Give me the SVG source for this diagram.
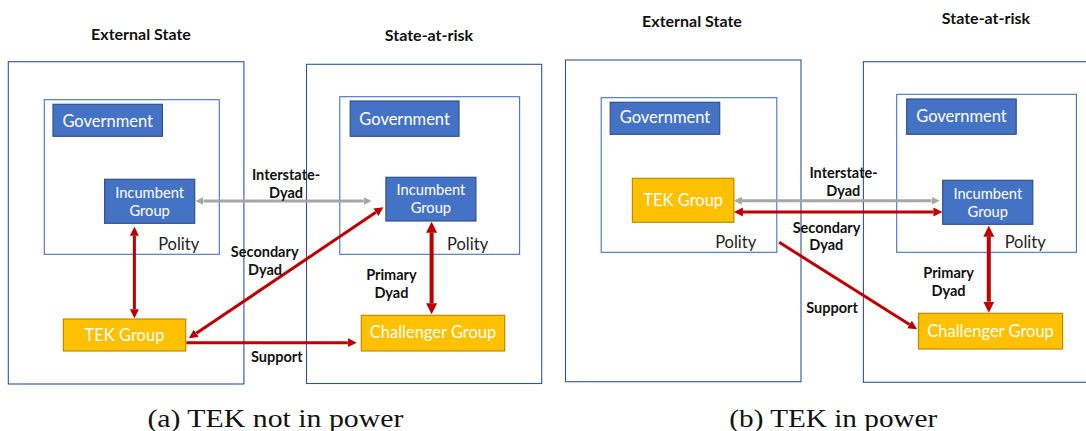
<svg xmlns="http://www.w3.org/2000/svg" width="1086" height="431" viewBox="0 0 1086 431">
<style>
.outer{fill:none;stroke:#2F5597;stroke-width:1.1}
.inner{fill:none;stroke:#4472C4;stroke-width:1.1}
.blue{fill:#4472C4;stroke:#2F528F;stroke-width:1.2}
.yel{fill:#FFC000;stroke:#BC8C00;stroke-width:1.2}
.nt{font-family:Lato,"Liberation Sans",sans-serif;fill:#fff;text-anchor:middle}
.pol{font-family:Lato,"Liberation Sans",sans-serif;fill:#222;font-size:16.5px;text-anchor:middle}
.lab{font-family:Lato,"Liberation Sans",sans-serif;font-weight:bold;fill:#111;font-size:14.5px;text-anchor:middle}
.title{font-family:Lato,"Liberation Sans",sans-serif;font-weight:bold;fill:#111;font-size:16px;text-anchor:middle}
.cap{font-family:"Liberation Serif",serif;fill:#111;font-size:25px;text-anchor:middle}
.red{stroke:#C00000;stroke-width:3;fill:none}
.gray{stroke:#A6A6A6;stroke-width:3;fill:none}
</style>
<defs>
<marker id="hr" viewBox="0 0 10 10" refX="0" refY="5" markerWidth="9" markerHeight="10" markerUnits="userSpaceOnUse" orient="auto-start-reverse"><path d="M0,0 L10,5 L0,10 z" fill="#C00000"/></marker>
<marker id="hp" viewBox="0 0 10 10" refX="0" refY="5" markerWidth="11" markerHeight="13" markerUnits="userSpaceOnUse" orient="auto-start-reverse"><path d="M0,0 L10,5 L0,10 z" fill="#C00000"/></marker>
<marker id="hg" viewBox="0 0 10 10" refX="0" refY="5" markerWidth="8" markerHeight="10" markerUnits="userSpaceOnUse" orient="auto-start-reverse"><path d="M0,0 L10,5 L0,10 z" fill="#A6A6A6"/></marker>
</defs>

<!-- Panel (a) -->
<text class="title" x="141" y="40">External State</text>
<text class="title" x="429" y="40.5">State-at-risk</text>
<g id="a-external-state"><rect class="outer" x="8.3" y="61.7" width="235.6" height="322.3"/></g>
<g id="a-external-polity"><rect class="inner" x="44.3" y="99.7" width="175" height="154.6"/><text class="pol" x="178.7" y="250">Polity</text></g>
<g id="a-external-government"><rect class="blue" x="53" y="104.3" width="109.4" height="32"/><text class="nt" x="107.7" y="126.5" font-size="16.5">Government</text></g>
<g id="a-external-incumbent"><rect class="blue" x="104.6" y="179.3" width="90.1" height="44"/><text class="nt" x="149.6" y="198.3" font-size="14.7">Incumbent</text><text class="nt" x="149.6" y="216" font-size="14.7">Group</text></g>
<g id="a-tek"><rect class="yel" x="63.4" y="319" width="122.3" height="32"/><text class="nt" x="124.5" y="340.7" font-size="16.5">TEK Group</text></g>
<g id="a-risk-state"><rect class="outer" x="306.5" y="64.3" width="235.2" height="319.2"/></g>
<g id="a-risk-polity"><rect class="inner" x="339.8" y="96.7" width="179.8" height="157.6"/><text class="pol" x="467.6" y="250">Polity</text></g>
<g id="a-risk-government"><rect class="blue" x="350.2" y="101" width="108.8" height="35.3"/><text class="nt" x="404.6" y="124.7" font-size="16.5">Government</text></g>
<g id="a-risk-incumbent"><rect class="blue" x="385.9" y="177.3" width="90" height="43.7"/><text class="nt" x="430.9" y="195" font-size="14.7">Incumbent</text><text class="nt" x="430.9" y="212.7" font-size="14.7">Group</text></g>
<g id="a-challenger"><rect class="yel" x="361.3" y="315.3" width="143.4" height="35.7"/><text class="nt" x="433" y="338.3" font-size="16.5">Challenger Group</text></g>

<g id="a-connectors">
<line class="gray" x1="203.4" y1="201" x2="363.7" y2="201" marker-start="url(#hg)" marker-end="url(#hg)"/>
<line class="red" x1="134.4" y1="235.7" x2="134.4" y2="309.3" marker-start="url(#hr)" marker-end="url(#hr)"/>
<line class="red" x1="196.3" y1="333.3" x2="375.9" y2="212.3" marker-start="url(#hr)" marker-end="url(#hr)"/>
<line class="red" style="stroke-width:4" x1="431.6" y1="232.7" x2="431.6" y2="303.3" marker-start="url(#hp)" marker-end="url(#hp)"/>
<line class="red" x1="186.4" y1="342.7" x2="347.8" y2="342.7" marker-end="url(#hr)"/>
<text class="lab" x="286" y="180">Interstate-</text>
<text class="lab" x="286" y="197.7">Dyad</text>
<text class="lab" x="264.7" y="257.3">Secondary</text>
<text class="lab" x="265" y="275">Dyad</text>
<text class="lab" x="391.4" y="280">Primary</text>
<text class="lab" x="391.4" y="297.7">Dyad</text>
<text class="lab" x="276.8" y="362.3">Support</text>
</g>
<text class="cap" x="275.4" y="426.5" textLength="256" lengthAdjust="spacingAndGlyphs">(a) TEK not in power</text>

<!-- Panel (b) -->
<text class="title" x="692" y="26.7">External State</text>
<text class="title" x="986" y="24">State-at-risk</text>
<g id="b-external-state"><rect class="outer" x="565.5" y="60" width="235.5" height="321.7"/></g>
<g id="b-external-polity"><rect class="inner" x="601.2" y="97.7" width="175.6" height="154.6"/><text class="pol" x="735.7" y="248.3">Polity</text></g>
<g id="b-external-government"><rect class="blue" x="610.2" y="102.3" width="109.5" height="32"/><text class="nt" x="665" y="123.3" font-size="16.5">Government</text></g>
<g id="b-tek"><rect class="yel" x="632.4" y="178.3" width="101.5" height="44"/><text class="nt" x="683.2" y="205.7" font-size="16.5">TEK Group</text></g>
<g id="b-risk-state"><rect class="outer" x="863.4" y="61.7" width="230" height="320.6"/></g>
<g id="b-risk-polity"><rect class="inner" x="896.7" y="94.3" width="179.7" height="158"/><text class="pol" x="1025.2" y="248.3">Polity</text></g>
<g id="b-risk-government"><rect class="blue" x="906.7" y="99" width="109.5" height="35.3"/><text class="nt" x="961.5" y="121.7" font-size="16.5">Government</text></g>
<g id="b-risk-incumbent"><rect class="blue" x="942.7" y="180.3" width="90.1" height="44"/><text class="nt" x="987.8" y="199" font-size="14.7">Incumbent</text><text class="nt" x="987.8" y="216.7" font-size="14.7">Group</text></g>
<g id="b-challenger"><rect class="yel" x="918.5" y="313.3" width="144.1" height="35.7"/><text class="nt" x="990.6" y="336.7" font-size="16.5">Challenger Group</text></g>

<g id="b-connectors">
<line class="gray" x1="741.9" y1="200.7" x2="931.6" y2="200.7" marker-start="url(#hg)" marker-end="url(#hg)"/>
<line class="red" x1="742.9" y1="212" x2="933.4" y2="212" marker-start="url(#hr)" marker-end="url(#hr)"/>
<line class="red" x1="779.2" y1="242.3" x2="909.5" y2="324.5" marker-end="url(#hr)"/>
<line class="red" style="stroke-width:4" x1="988.8" y1="236.7" x2="988.8" y2="301.7" marker-start="url(#hp)" marker-end="url(#hp)"/>
<text class="lab" x="843.5" y="178.3">Interstate-</text>
<text class="lab" x="843.3" y="196">Dyad</text>
<text class="lab" x="826.5" y="232.7">Secondary</text>
<text class="lab" x="826.3" y="250">Dyad</text>
<text class="lab" x="948.6" y="278.3">Primary</text>
<text class="lab" x="948.6" y="296">Dyad</text>
<text class="lab" x="832" y="313.3">Support</text>
</g>
<text class="cap" x="833.3" y="426.5" textLength="208" lengthAdjust="spacingAndGlyphs">(b) TEK in power</text>
</svg>
